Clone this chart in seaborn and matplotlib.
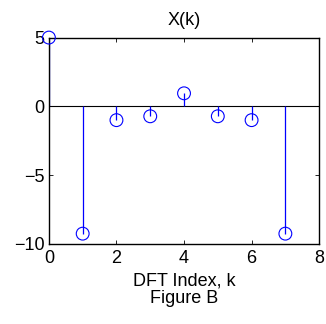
import numpy as np
import pandas as pd
import matplotlib
matplotlib.use("Agg")
import matplotlib.pyplot as plt
import seaborn as sns

# DFT values
k = [0, 1, 2, 3, 4, 5, 6, 7]
Xk = [5.0, -9.25, -1.0, -0.72, 0.95, -0.72, -1.0, -9.25]
x_ticks = [0, 2, 4, 6, 8]
y_ticks = [-10, -5, 0, 5]

df = pd.DataFrame({"k": k, "X": Xk})

sns.set_style("ticks", {"text.color": "black", "axes.labelcolor": "black",
                        "xtick.color": "black", "ytick.color": "black",
                        "axes.edgecolor": "black"})
plt.rcParams["font.family"] = ["Liberation Sans", "DejaVu Sans"]
plt.rcParams["axes.unicode_minus"] = True

fig = plt.figure(figsize=(3.26, 3.24), dpi=100)
ax = fig.add_axes([0.150, 0.247, 0.829, 0.637])

# baseline and stems
ax.axhline(0, color="black", lw=0.8, zorder=1)
ax.vlines(df["k"], 0, df["X"], color="blue", lw=0.9, zorder=2)
sns.scatterplot(data=df, x="k", y="X", marker="o", s=85,
                facecolor="none", edgecolor="blue", linewidth=0.8,
                ax=ax, zorder=3, clip_on=False)

ax.set_xlim(0, 8)
ax.set_ylim(-10, 5)
ax.set_xticks(x_ticks)
ax.set_yticks(y_ticks)
ax.tick_params(direction="in", length=3, width=0.6, labelsize=13,
               top=True, right=True)
ax.tick_params(axis="x", pad=4)
ax.tick_params(axis="y", pad=3)
for s in ax.spines.values():
    s.set_visible(True)
    s.set_linewidth(1.0)

ax.set_title("X(k)", fontsize=13, pad=9)
ax.set_xlabel("DFT Index, k\nFigure B", fontsize=13, labelpad=4,
              linespacing=1.1)
ax.set_ylabel("")

fig.savefig("out.png", dpi=100)
